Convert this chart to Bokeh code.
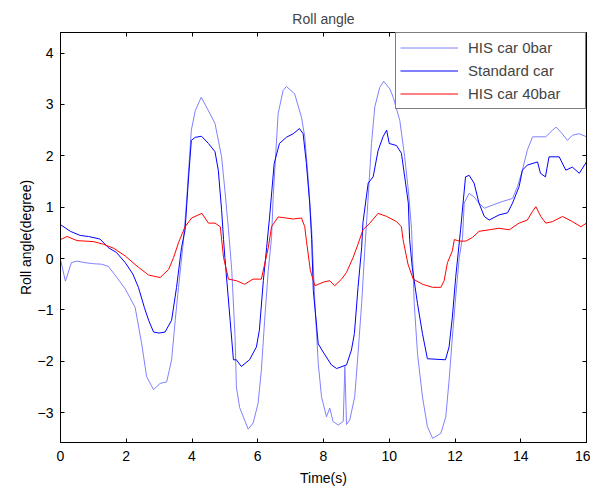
from bokeh.plotting import figure
from bokeh.models import LinearAxis, Range1d, Legend, LegendItem, FixedTicker, CustomJSTickFormatter
from bokeh.embed import file_html
from bokeh.resources import INLINE

# ---- data ----
x_ticks = [0, 2, 4, 6, 8, 10, 12, 14, 16]
y_ticks = [-3, -2, -1, 0, 1, 2, 3, 4]

series_names = ["HIS car 0bar", "Standard car", "HIS car 40bar"]

t_his0 = [0.0, 0.15, 0.33, 0.5, 0.75, 1.0, 1.25, 1.45, 1.66, 1.97,
          2.27, 2.47, 2.62, 2.83, 3.03, 3.23, 3.38, 3.49, 3.59, 3.74,
          3.83, 3.98, 4.1, 4.28, 4.44, 4.7, 4.9, 5.0, 5.11, 5.21,
          5.31, 5.35, 5.45, 5.56, 5.71, 5.86, 6.01, 6.11, 6.21, 6.32,
          6.42, 6.47, 6.62, 6.77, 6.87, 7.12, 7.33, 7.43, 7.53, 7.64,
          7.74, 7.84, 7.94, 8.09, 8.19, 8.29, 8.45, 8.6, 8.65, 8.7,
          8.8, 8.95, 9.05, 9.16, 9.26, 9.36, 9.46, 9.56, 9.71, 9.83,
          10.02, 10.12, 10.32, 10.47, 10.58, 10.68, 10.76, 10.86, 11.01, 11.16,
          11.32, 11.57, 11.72, 11.82, 11.92, 12.02, 12.13, 12.23, 12.28, 12.43,
          12.58, 12.73, 12.89, 13.14, 13.44, 13.75, 13.9, 14.05, 14.2, 14.36,
          14.56, 14.76, 14.97, 15.07, 15.22, 15.42, 15.57, 15.78, 16.0]
v_his0 = [-0.02, -0.44, -0.08, -0.05, -0.08, -0.1, -0.11, -0.15, -0.32, -0.59,
          -0.95, -1.66, -2.3, -2.55, -2.43, -2.4, -1.97, -1.2, -0.56, 0.35,
          1.08, 2.5, 2.88, 3.14, 2.95, 2.63, 1.98, 1.33, 0.56, -0.23,
          -1.53, -2.5, -2.9, -3.08, -3.32, -3.2, -2.82, -2.17, -1.2, -0.23,
          0.41, 1.2, 2.82, 3.27, 3.35, 3.21, 2.75, 2.37, 1.59, 0.56,
          -0.88, -2.04, -2.69, -3.08, -2.91, -3.17, -3.24, -3.17, -2.1, -3.23,
          -3.14, -2.69, -1.85, -0.88, 0.21, 1.2, 2.24, 2.95, 3.33, 3.45,
          3.3, 3.14, 2.69, 1.98, 1.33, 0.56, -0.88, -1.85, -2.69, -3.27,
          -3.5, -3.4, -3.08, -2.37, -1.53, -0.75, 0.02, 0.41, 1.08, 1.27,
          1.2, 1.08, 0.98, 1.04, 1.11, 1.17, 1.4, 1.72, 2.11, 2.37,
          2.37, 2.37, 2.5, 2.56, 2.46, 2.3, 2.4, 2.43, 2.37]

t_std = [0.0, 0.3, 0.6, 0.85, 1.2, 1.46, 1.7, 1.97, 2.2, 2.37,
         2.55, 2.68, 2.83, 3.0, 3.18, 3.38, 3.53, 3.68, 3.79, 3.89,
         3.98, 4.1, 4.29, 4.5, 4.7, 4.8, 4.9, 4.96, 5.0, 5.16,
         5.26, 5.35, 5.5, 5.75, 5.96, 6.05, 6.17, 6.27, 6.36, 6.5,
         6.66, 6.87, 7.08, 7.27, 7.38, 7.48, 7.58, 7.64, 7.69, 7.84,
         7.99, 8.24, 8.4, 8.7, 8.85, 8.94, 9.05, 9.16, 9.2, 9.36,
         9.51, 9.66, 9.81, 9.92, 10.0, 10.22, 10.37, 10.47, 10.58, 10.62,
         10.7, 10.86, 11.01, 11.16, 11.71, 11.82, 11.92, 12.02, 12.17, 12.32,
         12.43, 12.58, 12.73, 12.89, 13.04, 13.34, 13.6, 13.75, 13.95, 14.05,
         14.2, 14.51, 14.6, 14.75, 14.86, 15.17, 15.37, 15.57, 15.78, 16.0]
v_std = [0.66, 0.53, 0.45, 0.43, 0.38, 0.21, 0.12, -0.08, -0.3, -0.56,
         -0.95, -1.2, -1.43, -1.45, -1.43, -1.2, -0.56, 0.21, 0.56, 1.53,
         2.3, 2.36, 2.38, 2.24, 2.08, 1.72, 0.95, 0.37, 0.02, -1.2,
         -1.97, -1.97, -2.1, -1.97, -1.72, -1.39, -0.43, 0.21, 0.81, 1.85,
         2.24, 2.36, 2.43, 2.53, 2.43, 1.85, 1.08, 0.37, -0.62, -1.66,
         -1.82, -2.07, -2.14, -2.07, -1.78, -1.46, -0.56, 0.21, 0.7, 1.47,
         1.59, 2.1, 2.37, 2.5, 2.24, 2.2, 2.05, 1.59, 1.08, 0.37,
         -0.17, -0.88, -1.46, -1.95, -1.97, -1.72, -1.14, -0.37, 0.56, 1.59,
         1.62, 1.47, 1.08, 0.82, 0.75, 0.85, 0.89, 1.08, 1.4, 1.72,
         1.82, 1.88, 1.66, 1.59, 1.98, 1.98, 1.72, 1.78, 1.66, 1.88]

t_his40 = [0.0, 0.2, 0.5, 1.0, 1.3, 1.62, 1.97, 2.37, 2.68, 3.03,
           3.29, 3.44, 3.59, 3.79, 3.99, 4.3, 4.5, 4.7, 4.86, 4.96,
           5.11, 5.35, 5.6, 5.86, 6.11, 6.21, 6.32, 6.42, 6.62, 7.08,
           7.33, 7.43, 7.48, 7.6, 7.74, 7.99, 8.19, 8.34, 8.55, 8.7,
           8.9, 9.05, 9.2, 9.41, 9.66, 9.92, 10.22, 10.37, 10.42, 10.57,
           10.73, 11.01, 11.32, 11.57, 11.67, 11.77, 11.92, 11.98, 12.13, 12.33,
           12.53, 12.73, 13.04, 13.34, 13.65, 13.95, 14.2, 14.36, 14.46, 14.61,
           14.76, 14.97, 15.27, 15.57, 15.83, 16.0]
v_his40 = [0.37, 0.43, 0.35, 0.33, 0.28, 0.2, 0.05, -0.17, -0.32, -0.37,
           -0.21, 0.02, 0.31, 0.62, 0.79, 0.88, 0.69, 0.69, 0.62, 0.02,
           -0.4, -0.43, -0.5, -0.4, -0.4, -0.11, 0.21, 0.62, 0.81, 0.77,
           0.79, 0.62, 0.35, -0.23, -0.53, -0.46, -0.43, -0.53, -0.4, -0.27,
           0.02, 0.28, 0.56, 0.69, 0.88, 0.82, 0.72, 0.62, 0.37, -0.11,
           -0.4, -0.5, -0.56, -0.56, -0.43, -0.08, 0.15, 0.37, 0.34, 0.34,
           0.41, 0.53, 0.56, 0.59, 0.56, 0.69, 0.75, 0.92, 1.01, 0.82,
           0.69, 0.72, 0.82, 0.72, 0.62, 0.69]

colors = ["#8080ff", "#0000ff", "#ff0000"]
FONT = "Liberation Sans"

p = figure(width=590, height=488, output_backend="svg", toolbar_location=None,
           x_range=Range1d(0, 16), y_range=Range1d(-3.58, 4.40),
           min_border_left=60, min_border_right=4, min_border_top=32, min_border_bottom=44,
           title="Roll angle")
p.title.align = "center"
p.title.vertical_align = "top"
p.title.text_font = FONT
p.title.text_font_size = "14px"
p.title.text_font_style = "normal"
p.title.standoff = 8
p.grid.visible = False
p.outline_line_color = "black"
p.background_fill_color = "white"
p.border_fill_color = "white"

def style_axis(ax, ticks, labels=True):
    ax.ticker = FixedTicker(ticks=ticks)
    ax.major_tick_in = 4
    ax.major_tick_out = 0
    ax.minor_tick_line_color = None
    ax.axis_line_color = "black"
    ax.major_tick_line_color = "black"
    ax.axis_line_width = 1
    if labels:
        ax.major_label_text_font = FONT
        ax.major_label_text_font_size = "14px"
        ax.major_label_text_color = "black"
        ax.axis_label_text_font = FONT
        ax.axis_label_text_font_size = "14px"
        ax.axis_label_text_font_style = "normal"
        ax.axis_label_text_color = "black"
    else:
        ax.major_label_text_font_size = "0px"
        ax.major_label_standoff = 0
        ax.formatter = CustomJSTickFormatter(code="return ''")

style_axis(p.xaxis[0], x_ticks)
p.xaxis[0].axis_label = "Time(s)"
p.xaxis[0].major_label_standoff = 8
p.xaxis[0].axis_label_standoff = 6
style_axis(p.yaxis[0], y_ticks)
p.yaxis[0].axis_label = "Roll angle(degree)"
p.yaxis[0].major_label_standoff = 7
p.yaxis[0].axis_label_standoff = 1

top = LinearAxis()
style_axis(top, x_ticks, labels=False)
p.add_layout(top, "above")
right = LinearAxis()
style_axis(right, y_ticks, labels=False)
p.add_layout(right, "right")

r0 = p.line(t_his0, v_his0, line_color=colors[0], line_width=1)
r1 = p.line(t_std, v_std, line_color=colors[1], line_width=1)
r2 = p.line(t_his40, v_his40, line_color=colors[2], line_width=1)

legend = Legend(items=[LegendItem(label=series_names[0], renderers=[r0]),
                       LegendItem(label=series_names[1], renderers=[r1]),
                       LegendItem(label=series_names[2], renderers=[r2])],
                location="top_right", margin=0, padding=4, spacing=2,
                label_height=21, glyph_height=21, glyph_width=58, label_standoff=10,
                label_width=113, label_text_font=FONT, label_text_font_size="15px",
                border_line_color="black", border_line_width=1,
                background_fill_color="white", background_fill_alpha=1)
p.add_layout(legend)

open("out.html", "w").write(file_html(p, INLINE))
